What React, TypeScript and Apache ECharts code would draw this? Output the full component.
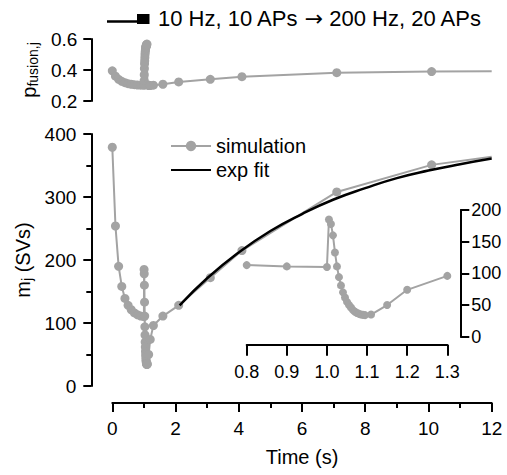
import React, { useEffect, useRef } from 'react';
import * as echarts from 'echarts';

// Simulation sample times (s)
const simTime = [
  0, 0.1, 0.2, 0.3, 0.4, 0.5, 0.6, 0.7, 0.8, 0.9, 1.0,
  1.005, 1.01, 1.015, 1.02, 1.025, 1.03, 1.035, 1.04, 1.045, 1.05,
  1.055, 1.06, 1.065, 1.07, 1.075, 1.08, 1.085, 1.09, 1.095,
  1.11, 1.15, 1.2, 1.3, 1.6, 2.1, 3.1, 4.1, 7.1, 10.1, 12,
];
// m_j (SVs)
const simM = [
  379, 254, 190, 158, 139, 128, 121, 116, 113, 111, 110,
  185, 178, 160, 133, 111, 94, 81, 70, 62, 55,
  50, 46, 42, 39.5, 37.5, 36, 35, 34.5, 34,
  35, 50, 74, 96, 111, 128, 172, 215, 308, 351, 364,
];
// p_fusion,j
const simP = [
  0.395, 0.36, 0.34, 0.327, 0.318, 0.312, 0.308, 0.305, 0.303, 0.302, 0.301,
  0.33, 0.37, 0.41, 0.44, 0.46, 0.48, 0.5, 0.515, 0.525, 0.535,
  0.54, 0.545, 0.55, 0.555, 0.558, 0.56, 0.562, 0.565, 0.567,
  0.305, 0.3, 0.3, 0.302, 0.308, 0.323, 0.34, 0.357, 0.383, 0.39, 0.392,
];
// exponential fit curve
const fitTime = [2.13, 3, 4, 5, 6, 7, 8, 9, 10, 11, 12];
const fitM = [128, 171, 212, 246, 273, 296, 314, 330, 342, 352, 361];

const insetMin = 0.8;
const insetMax = 1.3;

const titleA = '10 Hz, 10 APs ';
const titleArrow = '\u2192';
const titleB = ' 200 Hz, 20 APs';

const GRAY = '#a3a3a3';
const FONT = '"Liberation Sans", Arial, sans-serif';

function pairs(ts: number[], vs: number[], lastNoSymbol: boolean) {
  return ts.map((t, i) =>
    lastNoSymbol && i === ts.length - 1 ? { value: [t, vs[i]], symbol: 'none' } : [t, vs[i]]
  );
}

const mkLine = () => ({ show: true, onZero: false, lineStyle: { color: '#000', width: 2 } });
const mkTick = (len: number) => ({ show: true, inside: false, length: len, lineStyle: { color: '#000', width: 2 } });
const mkMinor = () => ({ show: true, splitNumber: 2, length: 5, lineStyle: { color: '#000', width: 2 } });

export default function App() {
  const ref = useRef<HTMLDivElement>(null);
  useEffect(() => {
    if (!ref.current) return;
    const chart = echarts.init(ref.current, undefined, { renderer: 'svg' });
    const insetIdx = simTime
      .map((t, i) => i)
      .filter((i) => simTime[i] >= insetMin - 1e-9 && simTime[i] <= insetMax + 1e-9);
    const insetData = insetIdx.map((i) => [simTime[i], simM[i]]);

    const option: any = {
      animation: false,
      textStyle: { fontFamily: FONT },
      grid: [
        { left: 112.3, top: 39, width: 379.4, height: 62 },
        { left: 112.3, top: 134, width: 379.4, height: 252 },
        { left: 246.7, top: 210, width: 200.6, height: 126.7 },
      ],
      legend: {
        left: 165,
        top: 131,
        orient: 'vertical',
        itemWidth: 40,
        itemHeight: 13,
        itemGap: 4,
        data: [
          { name: 'simulation' },
          { name: 'exp fit', itemStyle: { opacity: 0 } },
        ],
        textStyle: { fontSize: 20, color: '#000', fontFamily: FONT },
      },
      xAxis: [
        { gridIndex: 0, type: 'value', min: 0, max: 12, show: false },
        {
          gridIndex: 1, type: 'value', min: 0, max: 12, interval: 2, offset: 17,
          axisLine: mkLine(), axisTick: mkTick(9), minorTick: mkMinor(),
          splitLine: { show: false }, minorSplitLine: { show: false },
          axisLabel: { fontSize: 19, color: '#000', margin: 16, fontFamily: FONT },
          name: 'Time (s)', nameLocation: 'middle', nameGap: 44,
          nameTextStyle: { fontSize: 20, color: '#000', fontFamily: FONT },
        },
        {
          gridIndex: 2, type: 'value', min: insetMin, max: insetMax, interval: 0.1, offset: 8,
          axisLine: mkLine(), axisTick: mkTick(11), splitLine: { show: false },
          axisLabel: { fontSize: 18, color: '#000', margin: 18, fontFamily: FONT, formatter: (v: number) => v.toFixed(1) },
        },
      ],
      yAxis: [
        {
          gridIndex: 0, type: 'value', min: 0.2, max: 0.6, interval: 0.2, offset: 21,
          axisLine: mkLine(), axisTick: mkTick(8), splitLine: { show: false },
          axisLabel: { fontSize: 19, color: '#000', margin: 14, fontFamily: FONT, formatter: (v: number) => v.toFixed(1) },
          name: 'p{sub|fusion,j}', nameLocation: 'middle', nameGap: 44, nameRotate: 90,
          nameTextStyle: {
            fontSize: 20, color: '#000', fontFamily: FONT,
            rich: { sub: { fontSize: 14, color: '#000', fontFamily: FONT, padding: [8, 0, 0, 0] } },
          },
        },
        {
          gridIndex: 1, type: 'value', min: 0, max: 400, interval: 100, offset: 21,
          axisLine: mkLine(), axisTick: mkTick(8), minorTick: mkMinor(),
          splitLine: { show: false }, minorSplitLine: { show: false },
          axisLabel: { fontSize: 19, color: '#000', margin: 15, fontFamily: FONT },
          name: 'm{sub|j} (SVs)', nameLocation: 'middle', nameGap: 46, nameRotate: 90,
          nameTextStyle: {
            fontSize: 20, color: '#000', fontFamily: FONT,
            rich: { sub: { fontSize: 14, color: '#000', fontFamily: FONT, padding: [8, 0, 0, 0] } },
          },
        },
        {
          gridIndex: 2, type: 'value', position: 'right', min: 0, max: 200, interval: 50, offset: 13,
          axisLine: mkLine(), axisTick: mkTick(9), splitLine: { show: false },
          axisLabel: { fontSize: 18, color: '#000', margin: 11, fontFamily: FONT },
        },
      ],
      series: [
        {
          name: 'p_fusion', type: 'line', xAxisIndex: 0, yAxisIndex: 0,
          data: pairs(simTime, simP, true),
          symbol: 'circle', symbolSize: 9,
          lineStyle: { color: GRAY, width: 2 }, itemStyle: { color: GRAY },
        },
        {
          name: 'simulation', type: 'line', xAxisIndex: 1, yAxisIndex: 1,
          data: pairs(simTime, simM, true),
          symbol: 'circle', symbolSize: 9,
          lineStyle: { color: GRAY, width: 2 }, itemStyle: { color: GRAY },
          z: 2,
        },
        {
          name: 'exp fit', type: 'line', xAxisIndex: 1, yAxisIndex: 1,
          data: pairs(fitTime, fitM, false),
          smooth: true, showSymbol: false, symbol: 'none',
          lineStyle: { color: '#000', width: 2.5 }, itemStyle: { color: '#000' },
          z: 3,
        },
        {
          name: 'inset', type: 'line', xAxisIndex: 2, yAxisIndex: 2,
          data: insetData,
          symbol: 'circle', symbolSize: 8,
          lineStyle: { color: GRAY, width: 2 }, itemStyle: { color: GRAY },
          z: 4,
        },
      ],
      graphic: [
        { type: 'line', shape: { x1: 107, y1: 21.5, x2: 138, y2: 21.5 }, style: { stroke: '#000', lineWidth: 2.5 } },
        { type: 'rect', shape: { x: 137, y: 14, width: 12.5, height: 10 }, style: { fill: '#000' } },
        {
          type: 'text', x: 158, y: 18,
          style: {
            text: `${titleA}{ar|${titleArrow}}${titleB}`,
            fill: '#000', font: `22px ${FONT}`, verticalAlign: 'middle',
            rich: { ar: { fontFamily: '"DejaVu Sans"', fontSize: 22, fill: '#000' } },
          },
        },
      ],
    };
    chart.setOption(option);
    return () => chart.dispose();
  }, []);
  return <div ref={ref} style={{ position: 'absolute', left: 0, top: 0, width: 507, height: 475 }} />;
}
